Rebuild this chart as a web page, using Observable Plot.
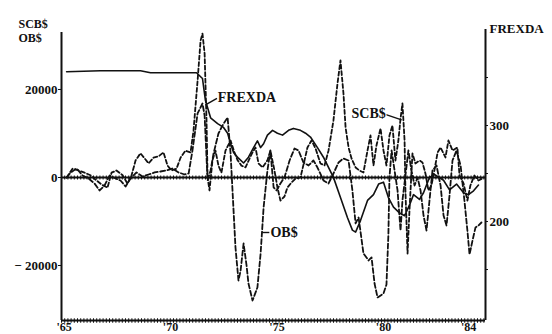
<!DOCTYPE html>
<html><head><meta charset="utf-8">
<script src="https://cdn.jsdelivr.net/npm/d3@7"></script>
<script src="https://cdn.jsdelivr.net/npm/@observablehq/plot@0.6"></script>
<style>body{margin:0;background:#fff}</style>
</head><body><div id="chart"></div>
<script>
// ---- data ----
const scbYears = [1965.12,1965.40,1965.68,1965.96,1966.24,1966.53,1966.76,1967.04,1967.23,1967.46,
1967.75,1967.98,1968.17,1968.36,1968.59,1968.97,1969.20,1969.44,1969.67,1969.86,
1970.05,1970.28,1970.47,1970.70,1970.94,1971.08,1971.27,1971.41,1971.50,1971.60,
1971.69,1971.74,1971.83,1971.97,1972.11,1972.25,1972.39,1972.58,1972.82,1973.00,
1973.15,1973.33,1973.52,1973.71,1973.85,1973.99,1974.13,1974.32,1974.55,1974.69,
1974.88,1975.02,1975.16,1975.35,1975.49,1975.68,1975.87,1976.10,1976.29,1976.43,
1976.62,1976.81,1977.04,1977.23,1977.42,1977.65,1977.84,1977.98,1978.12,1978.22,
1978.36,1978.50,1978.69,1978.87,1979.06,1979.25,1979.39,1979.53,1979.67,1979.86,
1980.00,1980.14,1980.28,1980.42,1980.56,1980.70,1980.80,1980.89,1980.99,1981.03,
1981.13,1981.22,1981.36,1981.50,1981.69,1981.83,1981.97,1982.11,1982.25,1982.39,
1982.54,1982.68,1982.91,1983.05,1983.24,1983.47,1983.57,1983.76,1983.94,1984.08,
1984.27,1984.46,1984.65];
const scbValues = [0,2000,1600,1100,500,-700,-1600,-2300,1100,1600,
500,-1400,500,3900,5500,3200,4500,4800,5700,2700,
1600,2000,4500,6100,5700,10700,22000,31100,32700,28200,
13000,0,-2950,3900,6100,2700,1100,6100,8400,5700,
3900,2700,2300,4300,5700,6800,3200,2300,3900,6100,
1600,-2270,-5230,-4320,-2270,-1140,-230,0,3860,6820,
8410,6590,3180,2730,6140,12960,21370,26600,19090,11360,
6820,4320,2270,1590,1140,6140,9550,2730,7270,11140,
6140,2730,9550,11820,3860,8410,13410,16820,8410,-2950,
-17270,-7500,5450,3180,3860,3410,910,-2950,-1820,1590,
5680,6820,4550,8410,6140,6820,450,-1360,-5230,-1820,
450,-680,-230];

const obYears = [1965.12,1965.31,1965.59,1965.87,1966.15,1966.43,1966.67,1966.90,1967.14,1967.42,
1967.65,1967.89,1968.12,1968.40,1968.69,1968.97,1969.25,1969.53,1969.81,1970.09,
1970.38,1970.66,1970.85,1971.03,1971.27,1971.50,1971.60,1971.74,1971.88,1972.02,
1972.25,1972.44,1972.68,1972.82,1972.91,1973.05,1973.19,1973.29,1973.43,1973.57,
1973.66,1973.85,1974.08,1974.23,1974.37,1974.55,1974.69,1974.84,1974.98,1975.16,
1975.35,1975.59,1975.82,1976.01,1976.24,1976.48,1976.71,1976.90,1977.18,1977.42,
1977.65,1977.89,1978.12,1978.36,1978.54,1978.69,1978.83,1979.06,1979.30,1979.44,
1979.58,1979.72,1980.00,1980.14,1980.23,1980.28,1980.38,1980.52,1980.66,1980.80,
1980.89,1981.03,1981.17,1981.31,1981.46,1981.60,1981.74,1981.88,1982.02,1982.16,
1982.30,1982.49,1982.68,1982.82,1982.96,1983.10,1983.24,1983.43,1983.62,1983.80,
1983.94,1984.04,1984.18,1984.32,1984.46,1984.60];
const obValues = [0,1140,2050,450,-230,-1360,-2950,-1820,450,-230,
-680,-2050,-230,1140,230,680,1140,1360,1590,2050,
1140,680,910,6140,14550,16820,14090,-680,1590,5450,
10000,11820,13640,5450,-2950,-15910,-23410,-21140,-15000,-20000,
-24090,-27960,-25000,-17270,-6820,1590,6140,-2270,-2950,-1360,
0,3860,6590,6140,3410,2730,3860,2270,-680,-1360,
910,3410,4320,3860,-2950,-10450,-9090,-17270,-18860,-18180,
-24090,-27270,-26370,-24320,-12960,0,6140,1590,-2950,-12050,
-5230,450,6140,1590,-1820,0,-2950,-8640,-12050,-5230,
1590,2730,-1820,-8640,-10910,-4090,3860,6140,2730,-5230,
-12050,-17500,-14320,-11360,-10910,-10230];

const frexdaYears = [1965.12,1966.71,1968.59,1969.06,1971.22,1971.50,1971.64,1971.88,1972.21,1972.49,
1972.68,1972.82,1972.96,1973.19,1973.43,1973.66,1973.90,1974.08,1974.23,1974.37,
1974.55,1974.79,1975.02,1975.26,1975.54,1975.77,1976.10,1976.34,1976.57,1976.90,
1977.18,1977.65,1977.98,1978.31,1978.54,1978.69,1978.92,1979.25,1979.53,1979.77,
1980.00,1980.23,1980.47,1980.75,1980.99,1981.22,1981.41,1981.69,1981.88,1982.16,
1982.39,1982.82,1983.10,1983.43,1983.76,1983.99,1984.23,1984.46];
const frexdaValues = [356,357,357,355,355,349,326,308,302,298,
292,281,272,266,261,267,277,284,277,281,
290,295,292,290,295,297,295,292,288,277,
267,246,225,204,191,189,201,222,228,239,
241,225,215,209,206,217,228,223,230,246,
249,243,233,239,230,228,232,238];

const leftTicks = [-20000, 0, 20000];
const rightTicks = [200, 300];
const rightMinorTicks = [150, 250, 350];
const xTickYears = [1965, 1970, 1975, 1980, 1984];
const xTickLabels = ["'65", "'70", "'75", "'80", "'84"];

// ---- scales ----
const xDomain = [1964.88, 1984.79];
const yDomain = [-32500, 32950];
const rightDomain = [96.9, 396.9];
const toLeft = d3.scaleLinear().domain(rightDomain).range(yDomain);

const scb = scbYears.map((t, i) => ({t, v: scbValues[i]}));
const ob = obYears.map((t, i) => ({t, v: obValues[i]}));
const frexda = frexdaYears.map((t, i) => ({t, v: toLeft(frexdaValues[i])}));

// in-plot annotation labels (data space)
const labels = [
  {t: 1972.22, v: 18200, text: "FREXDA"},
  {t: 1978.50, v: 14550, text: "SCB$"},
  {t: 1974.69, v: -12500, text: "OB$"}
];
const pointers = [
  {x1: 1971.64, y1: 16500, x2: 1972.18, y2: 18000},
  {x1: 1980.12, y1: 14300, x2: 1980.85, y2: 13100},
  {x1: 1974.30, y1: -12500, x2: 1974.64, y2: -12500}
];

const font = "'Liberation Serif', 'DejaVu Serif', serif";
const ink = "#111";

const chart = Plot.plot({
  width: 552,
  height: 334,
  marginLeft: 61,
  marginRight: 67,
  marginTop: 32,
  marginBottom: 14,
  style: {fontFamily: font, fontSize: "13px", fontWeight: "bold", background: "#fff", color: ink},
  x: {domain: xDomain, axis: null},
  y: {domain: yDomain, axis: null},
  marks: [
    // frame lines
    Plot.ruleX([xDomain[0]], {stroke: ink, strokeWidth: 2}),
    Plot.ruleX([xDomain[1]], {stroke: ink, strokeWidth: 2, y1: yDomain[0], y2: toLeft(400)}),
    Plot.ruleY([yDomain[0]], {stroke: ink, strokeWidth: 2}),
    Plot.ruleY([yDomain[0]], {stroke: ink, strokeWidth: 4.5, strokeDasharray: "1,2.2"}),
    Plot.ruleY([0], {stroke: ink, strokeWidth: 1.8}),
    Plot.ruleY([0], {stroke: ink, strokeWidth: 4, strokeDasharray: "1,2.2"}),
    // left axis
    Plot.axisY(leftTicks, {anchor: "left", tickSize: 3, tickPadding: 1, fontSize: 13,
      tickFormat: d => d < 0 ? "\u2212 " + Math.abs(d) : String(d)}),
    // right axis
    Plot.axisY(rightMinorTicks.map(toLeft), {anchor: "right", tickSize: 2, tickFormat: () => ""}),
    Plot.axisY(rightTicks.map(toLeft), {anchor: "right", tickSize: 2, tickPadding: 2, fontSize: 13,
      tickFormat: d => String(Math.round(toLeft.invert(d)))}),
    // x tick labels
    Plot.text(xTickYears, {x: d => d, y: yDomain[0], text: (d, i) => xTickLabels[i], dy: 7,
      fontSize: 12, fill: ink}),
    // series
    Plot.line(frexda, {x: "t", y: "v", stroke: ink, strokeWidth: 1.6}),
    Plot.line(scb, {x: "t", y: "v", stroke: ink, strokeWidth: 1.8, strokeDasharray: "4,2.5"}),
    Plot.line(ob, {x: "t", y: "v", stroke: ink, strokeWidth: 1.8, strokeDasharray: "5,2.5"}),
    // annotations
    Plot.link(pointers, {x1: "x1", y1: "y1", x2: "x2", y2: "y2", stroke: ink, strokeWidth: 1.4}),
    Plot.text(labels, {x: "t", y: "v", text: "text", textAnchor: "start", fontSize: 14, fill: ink,
      stroke: "#fff", strokeWidth: 2, paintOrder: "stroke"}),
    // axis titles
    Plot.text(["SCB$"], {frameAnchor: "top-left", dx: -43, dy: -13, textAnchor: "start", fontSize: 12, fill: ink}),
    Plot.text(["OB$"], {frameAnchor: "top-left", dx: -43, dy: 1, textAnchor: "start", fontSize: 12, fill: ink}),
    Plot.text(["FREXDA"], {frameAnchor: "top-right", dx: 4, dy: -9, textAnchor: "start", fontSize: 13, fill: ink})
  ]
});
document.getElementById("chart").appendChild(chart);
</script>
</body></html>
